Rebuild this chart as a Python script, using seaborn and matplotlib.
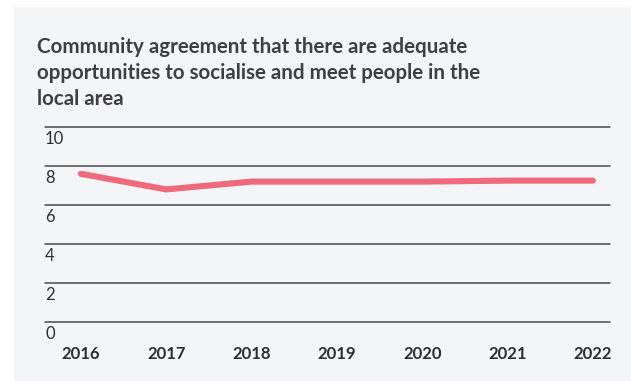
import matplotlib
matplotlib.use("Agg")
import matplotlib.pyplot as plt
import seaborn as sns
import pandas as pd
from matplotlib.patches import Rectangle

years = [2016, 2017, 2018, 2019, 2020, 2021, 2022]
scores = [7.6, 6.8, 7.2, 7.2, 7.2, 7.25, 7.25]
y_ticks = [0, 2, 4, 6, 8, 10]
title = ("Community agreement that there are adequate\n"
         "opportunities to socialise and meet people in the\n"
         "local area")

df = pd.DataFrame({"year": years, "score": scores})

sns.set_theme(style="white")
plt.rcParams["font.family"] = ["Lato", "DejaVu Sans"]

W, H = 631, 381
fig = plt.figure(figsize=(W / 100, H / 100), dpi=100, facecolor="white")
panel_color = "#f4f5f7"
fig.patches.append(Rectangle((14 / W, 0), 1 - 14 / W, 1 - 7 / H,
                             transform=fig.transFigure, facecolor=panel_color,
                             edgecolor="none", zorder=-5))

# axes box: x 45..610 px, y 127..322 px (top-down)
ax = fig.add_axes([45 / W, 1 - 322 / H, (610 - 45) / W, (322 - 127) / H])
ax.set_facecolor("none")
ax.set_zorder(2)

sns.lineplot(data=df, x="year", y="score", ax=ax, color="#ef6b7b",
             linewidth=4.4, solid_capstyle="round", solid_joinstyle="round",
             zorder=3)

ax.set_xlim(2015.58, 2022.2)
ax.set_ylim(0, 10)
for v in y_ticks:
    ax.axhline(v, color="#4a4a4a", linewidth=1.1, zorder=1, clip_on=False)
    ax.text(0, v - 0.22, str(v), transform=ax.get_yaxis_transform(),
            ha="left", va="top", fontsize=12, color="#2e2e2e")

ax.set_yticks([])
ax.set_xticks(years)
ax.set_xticklabels([str(y) for y in years], fontsize=12, fontweight="bold",
                   color="#2e2e2e")
ax.tick_params(axis="x", length=0, pad=17)
ax.set_xlabel("")
ax.set_ylabel("")
for s in ax.spines.values():
    s.set_visible(False)

fig.text(37 / W, 1 - 37 / H, title, ha="left", va="top", fontsize=14.8,
         fontweight="bold", color="#3f3f3f", linespacing=1.38)

fig.savefig("out.png", dpi=100, facecolor="white")
